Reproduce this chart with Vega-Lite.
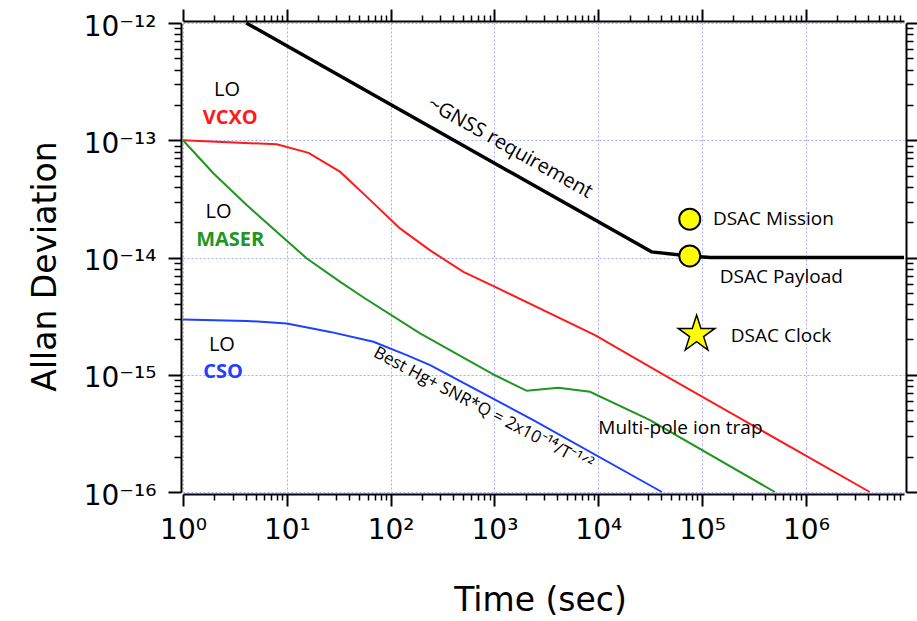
{
  "$schema": "https://vega.github.io/schema/vega-lite/v6.json",
  "width": 721,
  "height": 469,
  "autosize": "none",
  "padding": {"left": 183, "top": 23, "right": 13, "bottom": 129},
  "background": "white",
  "config": {
    "view": {"stroke": null},
    "axis": {
      "domainColor": "black", "domainWidth": 2,
      "tickColor": "black", "tickWidth": 2,
      "labelFont": "DejaVu Sans", "labelFontSize": 28, "labelColor": "black",
      "titleFont": "DejaVu Sans", "titleFontSize": 33, "titleFontWeight": "normal", "titleColor": "black",
      "gridColor": "#a8a8ff", "gridDash": [2, 2], "gridWidth": 1,
      "labelFlush": false, "labelOverlap": false, "labelBound": false
    }
  },
  "datasets": {
    "curves": [
      {"series": "VCXO", "t": 1, "v": 1e-13},
      {"series": "VCXO", "t": 8, "v": 9.24e-14},
      {"series": "VCXO", "t": 16.2, "v": 7.8e-14},
      {"series": "VCXO", "t": 32.7, "v": 5.37e-14},
      {"series": "VCXO", "t": 59, "v": 3.29e-14},
      {"series": "VCXO", "t": 123, "v": 1.77e-14},
      {"series": "VCXO", "t": 240, "v": 1.15e-14},
      {"series": "VCXO", "t": 502, "v": 7.54e-15},
      {"series": "VCXO", "t": 1014, "v": 5.61e-15},
      {"series": "VCXO", "t": 9290, "v": 2.18e-15},
      {"series": "VCXO", "t": 49000, "v": 9.3e-16},
      {"series": "VCXO", "t": 4120000, "v": 1e-16},
      {"series": "MASER", "t": 1, "v": 1e-13},
      {"series": "MASER", "t": 1.97, "v": 5.2e-14},
      {"series": "MASER", "t": 4.13, "v": 2.79e-14},
      {"series": "MASER", "t": 8.03, "v": 1.65e-14},
      {"series": "MASER", "t": 15.6, "v": 9.8e-15},
      {"series": "MASER", "t": 32.7, "v": 6.19e-15},
      {"series": "MASER", "t": 56.8, "v": 4.47e-15},
      {"series": "MASER", "t": 192, "v": 2.25e-15},
      {"series": "MASER", "t": 1014, "v": 9.9e-16},
      {"series": "MASER", "t": 2046, "v": 7.3e-16},
      {"series": "MASER", "t": 4120, "v": 7.73e-16},
      {"series": "MASER", "t": 8318, "v": 7.15e-16},
      {"series": "MASER", "t": 31500, "v": 4.1e-16},
      {"series": "MASER", "t": 502000, "v": 1e-16},
      {"series": "CSO", "t": 1, "v": 2.96e-15},
      {"series": "CSO", "t": 4.13, "v": 2.88e-15},
      {"series": "CSO", "t": 10, "v": 2.74e-15},
      {"series": "CSO", "t": 26.2, "v": 2.32e-15},
      {"series": "CSO", "t": 68.3, "v": 1.91e-15},
      {"series": "CSO", "t": 143, "v": 1.47e-15},
      {"series": "CSO", "t": 240, "v": 1.21e-15},
      {"series": "CSO", "t": 2367, "v": 4.1e-16},
      {"series": "CSO", "t": 41000, "v": 1e-16}
    ],
    "gnss": [
      {"t": 4.07, "v": 1e-12},
      {"t": 32600, "v": 1.117e-14},
      {"t": 76000, "v": 1.03e-14},
      {"t": 120000, "v": 1e-14},
      {"t": 8800000, "v": 1e-14}
    ],
    "circles": [
      {"name": "DSAC Mission", "t": 76000, "v": 2.12e-14},
      {"name": "DSAC Payload", "t": 76000, "v": 1.03e-14}
    ],
    "stars": [
      {"name": "DSAC Clock", "t": 88500, "v": 2.21e-15}
    ],
    "lo": [
      {"label": "LO", "t": 2.65, "v": 2.67e-13},
      {"label": "LO", "t": 2.2, "v": 2.45e-14},
      {"label": "LO", "t": 2.37, "v": 1.81e-15}
    ],
    "names": [
      {"series": "VCXO", "t": 2.85, "v": 1.56e-13},
      {"series": "MASER", "t": 2.85, "v": 1.4e-14},
      {"series": "CSO", "t": 2.43, "v": 1.06e-15}
    ],
    "notes": [
      {"label": "DSAC Mission", "t": 127000, "v": 2.12e-14},
      {"label": "DSAC Payload", "t": 148000, "v": 6.79e-15},
      {"label": "DSAC Clock", "t": 189000, "v": 2.15e-15},
      {"label": "Multi-pole ion trap", "t": 10000, "v": 3.48e-16}
    ],
    "gnssNote": [
      {"label": "~GNSS requirement", "t": 1413, "v": 8.63e-14}
    ],
    "hgNote": [
      {"label": "Best Hg+ SNR*Q = 2x10⁻¹⁴/T⁻¹ᐟ²", "t": 777, "v": 5.09e-16}
    ]
  },
  "resolve": {"axis": {"x": "independent", "y": "independent"}},
  "layer": [
    {
      "data": {"name": "curves"},
      "mark": {"type": "line", "strokeWidth": 2},
      "encoding": {
        "x": {
          "field": "t", "type": "quantitative",
          "scale": {"type": "log", "domain": [1, 8800000], "nice": false},
          "axis": {
            "orient": "bottom", "offset": 2,
            "values": [1, 10, 100, 1000, 10000, 100000, 1000000],
            "labelExpr": "datum.value < 5 ? '10⁰' : datum.value < 50 ? '10¹' : datum.value < 500 ? '10²' : datum.value < 5000 ? '10³' : datum.value < 50000 ? '10⁴' : datum.value < 500000 ? '10⁵' : '10⁶'",
            "tickSize": 12, "labelPadding": 10, "labelBaseline": "top", "labelAlign": "center",
            "grid": true, "title": "Time (sec)",
            "titleX": 357, "titleY": 106, "titleBaseline": "middle", "titleAlign": "center"
          }
        },
        "y": {
          "field": "v", "type": "quantitative",
          "scale": {"type": "log", "domain": [1e-16, 1e-12], "nice": false},
          "axis": {
            "orient": "left", "offset": 2,
            "values": [1e-16, 1e-15, 1e-14, 1e-13, 1e-12],
            "labelExpr": "datum.value > 5e-13 ? '10⁻¹²' : datum.value > 5e-14 ? '10⁻¹³' : datum.value > 5e-15 ? '10⁻¹⁴' : datum.value > 5e-16 ? '10⁻¹⁵' : '10⁻¹⁶'",
            "tickSize": 13, "labelPadding": 12, "labelAlign": "right", "labelBaseline": "middle", "labelOffset": 4,
            "grid": true, "title": "Allan Deviation",
            "titleX": -136, "titleY": 243, "titleAngle": -90, "titleBaseline": "middle", "titleAlign": "center"
          }
        },
        "color": {
          "field": "series", "type": "nominal",
          "scale": {"domain": ["VCXO", "MASER", "CSO"], "range": ["#ff1a1a", "#1f961f", "#1f40ff"]},
          "legend": null
        }
      }
    },
    {
      "data": {"name": "gnss"},
      "mark": {"type": "line", "strokeWidth": 3.5, "color": "black"},
      "encoding": {
        "x": {
          "field": "t", "type": "quantitative",
          "axis": {
            "orient": "bottom", "offset": 2, "domain": false, "labels": false, "grid": false, "title": null,
            "tickSize": 6, "tickWidth": 1.5,
            "values": [2,3,4,5,6,7,8,9,20,30,40,50,60,70,80,90,200,300,400,500,600,700,800,900,2000,3000,4000,5000,6000,7000,8000,9000,20000,30000,40000,50000,60000,70000,80000,90000,200000,300000,400000,500000,600000,700000,800000,900000,2000000,3000000,4000000,5000000,6000000,7000000,8000000]
          }
        },
        "y": {
          "field": "v", "type": "quantitative",
          "axis": {
            "orient": "left", "offset": 2, "domain": false, "labels": false, "grid": false, "title": null,
            "tickSize": 7, "tickWidth": 1.5,
            "values": [2e-16,3e-16,4e-16,5e-16,6e-16,7e-16,8e-16,9e-16,2e-15,3e-15,4e-15,5e-15,6e-15,7e-15,8e-15,9e-15,2e-14,3e-14,4e-14,5e-14,6e-14,7e-14,8e-14,9e-14,2e-13,3e-13,4e-13,5e-13,6e-13,7e-13,8e-13,9e-13]
          }
        }
      }
    },
    {
      "data": {"name": "circles"},
      "mark": {"type": "point", "shape": "circle", "filled": true, "fill": "#ffff00", "stroke": "black", "strokeWidth": 2, "size": 440, "opacity": 1},
      "encoding": {
        "x": {
          "field": "t", "type": "quantitative",
          "axis": {
            "orient": "top", "offset": 2, "labels": false, "grid": false, "title": null, "tickSize": 12,
            "values": [1, 10, 100, 1000, 10000, 100000, 1000000]
          }
        },
        "y": {
          "field": "v", "type": "quantitative",
          "axis": {
            "orient": "right", "offset": 2, "labels": false, "grid": false, "title": null, "tickSize": 13,
            "values": [1e-16, 1e-15, 1e-14, 1e-13, 1e-12]
          }
        }
      }
    },
    {
      "data": {"name": "stars"},
      "mark": {"type": "point", "shape": "M0,-1L0.2245,-0.309L0.951,-0.309L0.3633,0.118L0.588,0.809L0,0.382L-0.588,0.809L-0.3633,0.118L-0.951,-0.309L-0.2245,-0.309Z", "filled": true, "fill": "#ffff00", "stroke": "black", "strokeWidth": 1.5, "size": 1490, "opacity": 1},
      "encoding": {
        "x": {
          "field": "t", "type": "quantitative",
          "axis": {
            "orient": "top", "offset": 2, "domain": false, "labels": false, "grid": false, "title": null,
            "tickSize": 6, "tickWidth": 1.5,
            "values": [2,3,4,5,6,7,8,9,20,30,40,50,60,70,80,90,200,300,400,500,600,700,800,900,2000,3000,4000,5000,6000,7000,8000,9000,20000,30000,40000,50000,60000,70000,80000,90000,200000,300000,400000,500000,600000,700000,800000,900000,2000000,3000000,4000000,5000000,6000000,7000000,8000000]
          }
        },
        "y": {
          "field": "v", "type": "quantitative",
          "axis": {
            "orient": "right", "offset": 2, "domain": false, "labels": false, "grid": false, "title": null,
            "tickSize": 7, "tickWidth": 1.5,
            "values": [2e-16,3e-16,4e-16,5e-16,6e-16,7e-16,8e-16,9e-16,2e-15,3e-15,4e-15,5e-15,6e-15,7e-15,8e-15,9e-15,2e-14,3e-14,4e-14,5e-14,6e-14,7e-14,8e-14,9e-14,2e-13,3e-13,4e-13,5e-13,6e-13,7e-13,8e-13,9e-13]
          }
        }
      }
    },
    {
      "data": {"name": "lo"},
      "mark": {"type": "text", "font": "Open Sans", "fontSize": 20, "color": "black", "align": "center", "baseline": "middle"},
      "encoding": {
        "x": {"field": "t", "type": "quantitative", "axis": null},
        "y": {"field": "v", "type": "quantitative", "axis": null},
        "text": {"field": "label"}
      }
    },
    {
      "data": {"name": "names"},
      "mark": {"type": "text", "font": "Open Sans", "fontSize": 20, "fontWeight": "bold", "align": "center", "baseline": "middle"},
      "encoding": {
        "x": {"field": "t", "type": "quantitative", "axis": null},
        "y": {"field": "v", "type": "quantitative", "axis": null},
        "text": {"field": "series"},
        "color": {"field": "series", "type": "nominal", "legend": null}
      }
    },
    {
      "data": {"name": "notes"},
      "mark": {"type": "text", "font": "Open Sans", "fontSize": 19, "color": "black", "align": "left", "baseline": "middle"},
      "encoding": {
        "x": {"field": "t", "type": "quantitative", "axis": null},
        "y": {"field": "v", "type": "quantitative", "axis": null},
        "text": {"field": "label"}
      }
    },
    {
      "data": {"name": "gnssNote"},
      "mark": {"type": "text", "font": "Open Sans", "fontSize": 20, "color": "black", "align": "center", "baseline": "middle", "angle": 29.4},
      "encoding": {
        "x": {"field": "t", "type": "quantitative", "axis": null},
        "y": {"field": "v", "type": "quantitative", "axis": null},
        "text": {"field": "label"}
      }
    },
    {
      "data": {"name": "hgNote"},
      "mark": {"type": "text", "font": "Open Sans", "fontSize": 17, "color": "black", "align": "center", "baseline": "middle", "angle": 28},
      "encoding": {
        "x": {"field": "t", "type": "quantitative", "axis": null},
        "y": {"field": "v", "type": "quantitative", "axis": null},
        "text": {"field": "label"}
      }
    }
  ]
}
